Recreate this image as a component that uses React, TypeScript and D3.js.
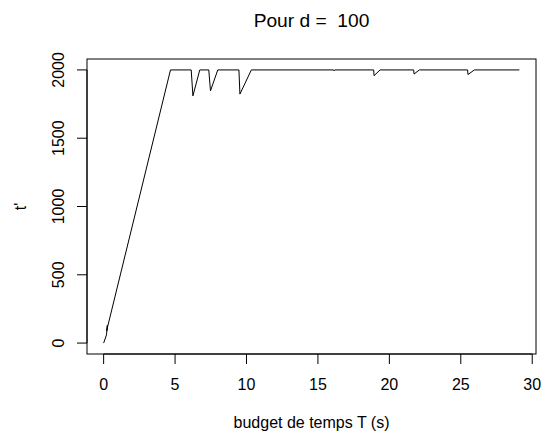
import React from "react";
import * as d3 from "d3";

const budgetT: number[] = [0, 0.2, 0.26, 0.22, 0.28, 4.68, 6.13, 6.25, 6.73, 7.36, 7.48, 7.99, 9.47, 9.54, 10.34, 16.1, 16.13, 16.18, 18.9, 18.93, 19.35, 21.7, 21.73, 22.1, 25.48, 25.5, 25.95, 29.1];
const tPrime: number[] = [0, 60, 130, 90, 120, 2000, 2000, 1810, 2000, 2000, 1847, 2000, 2000, 1823, 2000, 2000, 1993, 2000, 2000, 1958, 2000, 2000, 1970, 2000, 2000, 1966, 2000, 2000];
const xTicks: number[] = [0, 5, 10, 15, 20, 25, 30];
const yTicks: number[] = [0, 500, 1000, 1500, 2000];

const W = 541, H = 434;
const left = 87, right = 536, top = 59, bottom = 354;
const font = "'Liberation Sans', Arial, Helvetica, sans-serif";
const fs = 16;

export default function App() {
  const xmin = 0, xmax = 29.1, ymin = 0, ymax = 2000;
  const x = d3.scaleLinear()
    .domain([xmin - 0.04 * (xmax - xmin), xmax + 0.04 * (xmax - xmin)])
    .range([left, right]);
  const y = d3.scaleLinear()
    .domain([ymin - 0.04 * (ymax - ymin), ymax + 0.04 * (ymax - ymin)])
    .range([bottom, top]);
  const pts: [number, number][] = budgetT.map((v, i) => [v, tPrime[i]]);
  const line = d3.line<[number, number]>().x(d => x(d[0])).y(d => y(d[1]));

  return (
    <svg width={W} height={H} style={{ position: "absolute", left: 0, top: 0, background: "#fff" }} fontFamily={font}>
      <rect x={0} y={0} width={W} height={H} fill="#fff" />
      <text x={(left + right) / 2} y={27} textAnchor="middle" fontSize={19.2} style={{ whiteSpace: "pre" }} xmlSpace="preserve">Pour d =  100</text>
      <rect x={left} y={top} width={right - left} height={bottom - top} fill="none" stroke="#000" strokeWidth={1} />
      <path d={line(pts) || ""} fill="none" stroke="#000" strokeWidth={1} />
      {/* x axis */}
      <line x1={x(xTicks[0])} x2={x(xTicks[xTicks.length - 1])} y1={bottom} y2={bottom} stroke="#000" />
      {xTicks.map(t => (
        <g key={"x" + t}>
          <line x1={x(t)} x2={x(t)} y1={bottom} y2={bottom + 10} stroke="#000" />
          <text x={x(t)} y={390} textAnchor="middle" fontSize={fs}>{t}</text>
        </g>
      ))}
      {/* y axis */}
      <line x1={left} x2={left} y1={y(yTicks[0])} y2={y(yTicks[yTicks.length - 1])} stroke="#000" />
      {yTicks.map(t => (
        <g key={"y" + t}>
          <line x1={left} x2={left - 10} y1={y(t)} y2={y(t)} stroke="#000" />
          <text transform={`translate(64,${y(t)}) rotate(-90)`} textAnchor="middle" fontSize={fs}>{t}</text>
        </g>
      ))}
      <text x={(left + right) / 2} y={428} textAnchor="middle" fontSize={fs}>budget de temps T (s)</text>
      <text transform={`translate(26,${(top + bottom) / 2}) rotate(-90)`} textAnchor="middle" fontSize={fs}>t'</text>
    </svg>
  );
}
